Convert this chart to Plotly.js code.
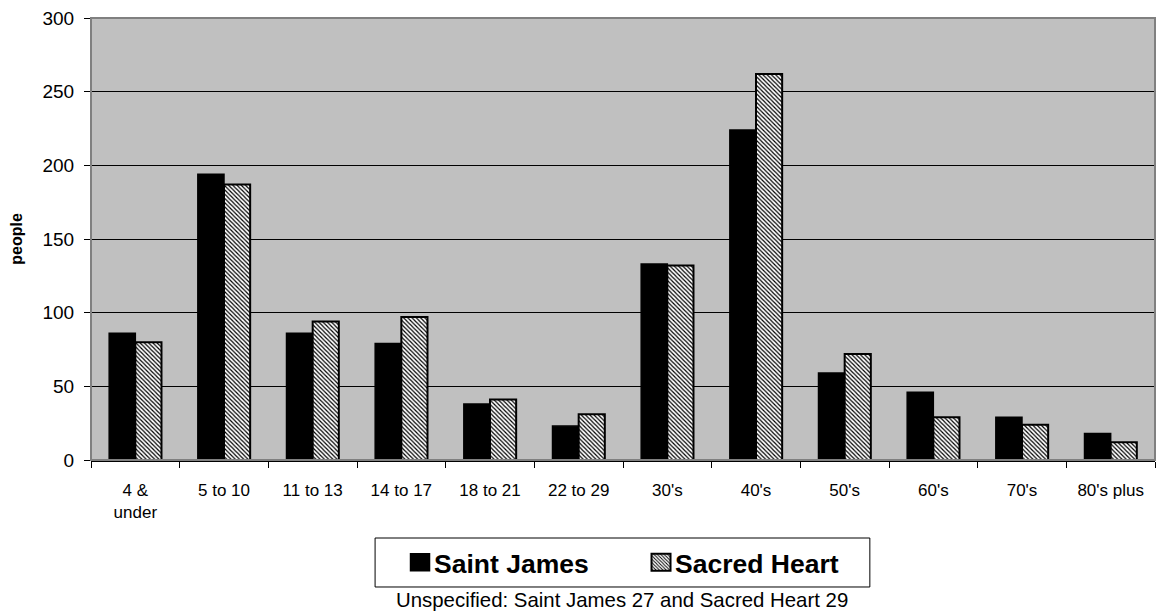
<!DOCTYPE html>
<html>
<head>
<meta charset="utf-8">
<script src="https://cdn.plot.ly/plotly-3.0.1.min.js"></script>
<style>
  html, body { margin: 0; padding: 0; background: #ffffff; }
  #chart { width: 1163px; height: 611px; }
</style>
</head>
<body>
<div id="chart"></div>
<script>
// Age groups of the two parishes
const ageGroups = ['4 &<br>under', '5 to 10', '11 to 13', '14 to 17', '18 to 21', '22 to 29',
                   "30's", "40's", "50's", "60's", "70's", "80's plus"];
const saintJames = [86, 194, 86, 79, 38, 23, 133, 224, 59, 46, 29, 18];
const sacredHeart = [80, 187, 94, 97, 41, 31, 132, 262, 72, 29, 24, 12];
const yTicks = [0, 50, 100, 150, 200, 250, 300];
const footNote = 'Unspecified: Saint James 27 and Sacred Heart 29';

const FONT = 'Arial, "Liberation Sans", sans-serif';

const traces = [
  {
    type: 'bar',
    name: 'Saint James',
    x: ageGroups,
    y: saintJames,
    marker: { color: '#000000', line: { color: '#000000', width: 1.5 } },
    hoverinfo: 'x+y+name'
  },
  {
    type: 'bar',
    name: 'Sacred Heart',
    x: ageGroups,
    y: sacredHeart,
    marker: {
      color: '#ffffff',
      line: { color: '#000000', width: 2 },
      pattern: { shape: '\\', fgcolor: '#000000', bgcolor: '#ffffff', size: 3, solidity: 0.4, fillmode: 'replace' }
    },
    hoverinfo: 'x+y+name'
  }
];

const layout = {
  width: 1163,
  height: 611,
  margin: { l: 91, r: 8, t: 18, b: 151 },
  paper_bgcolor: '#ffffff',
  plot_bgcolor: '#c0c0c0',
  barmode: 'group',
  bargap: 0.41,
  bargroupgap: 0,
  showlegend: true,
  font: { family: FONT, color: '#000000', size: 17 },
  xaxis: {
    type: 'category',
    tickson: 'boundaries',
    ticks: 'outside',
    ticklen: 6,
    tickwidth: 1,
    tickcolor: '#000000',
    ticklabelstandoff: 14,
    showline: true,
    linecolor: '#000000',
    linewidth: 1.5,
    showgrid: false,
    tickfont: { family: FONT, size: 17, color: '#000000' },
    fixedrange: true
  },
  yaxis: {
    range: [0, 300],
    tickvals: yTicks,
    ticktext: yTicks.map(String),
    ticks: 'outside',
    ticklen: 6,
    tickwidth: 1,
    tickcolor: '#000000',
    ticklabelstandoff: 6,
    showline: false,
    showgrid: true,
    gridcolor: '#000000',
    gridwidth: 1,
    zeroline: false,
    tickfont: { family: FONT, size: 19, color: '#000000' },
    title: { text: '<b>people</b>', font: { family: FONT, size: 16, color: '#000000' }, standoff: 15 },
    fixedrange: true
  },
  legend: {
    orientation: 'h',
    x: 0.5113,
    xanchor: 'center',
    y: -0.232,
    yanchor: 'middle',
    bgcolor: 'rgba(0,0,0,0)',
    borderwidth: 0,
    font: { family: FONT, size: 26.5, color: '#000000', weight: 'bold' },
    entrywidth: 196,
    traceorder: 'normal'
  },
  shapes: [
    // grey frame around the plotting area
    { type: 'rect', xref: 'paper', yref: 'paper', x0: 0, x1: 1, y0: 0, y1: 1,
      line: { color: '#808080', width: 2 }, fillcolor: 'rgba(0,0,0,0)', layer: 'above' },
    // legend box
    { type: 'rect', xref: 'paper', yref: 'paper', x0: 0.267, x1: 0.732, y0: -0.2873, y1: -0.1765,
      line: { color: '#000000', width: 1 }, fillcolor: '#ffffff', layer: 'below' }
  ],
  annotations: [
    { xref: 'paper', yref: 'paper', x: 0.4995, y: -0.3167, xanchor: 'center', yanchor: 'middle',
      text: footNote, showarrow: false, font: { family: FONT, size: 20.4, color: '#000000' } }
  ]
};

Plotly.newPlot('chart', traces, layout, { displayModeBar: false, staticPlot: true }).then(function (gd) {
  // larger legend swatches, set close to their labels
  gd.querySelectorAll('.legend .legendpoints path').forEach(function (p) {
    p.setAttribute('d', 'M15.5,8.5H-3.5V-8.5H15.5Z');
  });
});
</script>
</body>
</html>
